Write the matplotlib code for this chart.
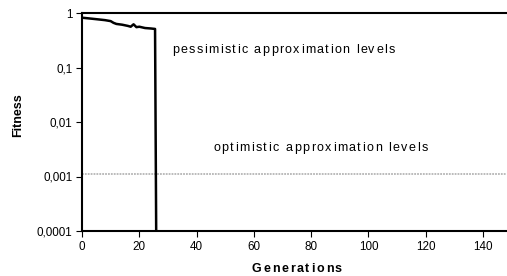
import matplotlib
matplotlib.use("Agg")
import matplotlib.pyplot as plt
import numpy as np

plt.rcParams['font.family'] = ['Liberation Sans', 'DejaVu Sans']

generations = [0, 1, 3, 5, 8, 10, 11, 12, 14, 16, 17, 18, 19, 20, 22, 24, 25.5, 26]
fitness = [0.82, 0.81, 0.79, 0.77, 0.74, 0.71, 0.66, 0.63, 0.61, 0.58, 0.56, 0.62, 0.55, 0.56, 0.53, 0.52, 0.51, 0.00001]
optimistic_level = 0.0011
yticks = [1, 0.1, 0.01, 0.001, 0.0001]
ytick_labels = ["1", "0,1", "0,01", "0,001", "0,0001"]
xticks = [0, 20, 40, 60, 80, 100, 120, 140]

W, H = 507, 276
fig = plt.figure(figsize=(W / 100, H / 100), dpi=100)
ax = fig.add_axes([82 / W, 1 - 231 / H, 424 / W, 218 / H])
ax.set_yscale('log')
ax.set_ylim(0.0001, 1)
ax.set_xlim(0, 148)

ax.axhline(optimistic_level, color='#b5b5b5', lw=1.3, ls=(0, (1, 0.6)), zorder=1)
ax.plot(generations, fitness, color='black', lw=1.8, zorder=3, clip_on=True)

ax.set_yticks(yticks)
ax.set_yticklabels(ytick_labels)
ax.minorticks_off()
ax.set_xticks(xticks)
ax.tick_params(axis='both', labelsize=8.4, length=4, width=0.8, direction='out', colors='black', pad=3)
for s in ['left', 'bottom']:
    ax.spines[s].set_linewidth(1.5)
ax.spines['right'].set_visible(False)
ax.spines['top'].set_linewidth(1.5)

renderer = fig.canvas.get_renderer()


def char_width(ch, **kw):
    t1 = fig.text(0, 0, "|" + ch + "|", **kw)
    t2 = fig.text(0, 0, "||", **kw)
    w = t1.get_window_extent(renderer).width - t2.get_window_extent(renderer).width
    t1.remove()
    t2.remove()
    return w


def spaced_text(x0, baseline, s, target_w, **kw):
    widths = [char_width(ch, **kw) for ch in s]
    gap = (target_w - sum(widths)) / (len(s) - 1)
    x = x0
    for ch, w in zip(s, widths):
        fig.text(x / W, 1 - baseline / H, ch, ha='left', va='baseline', **kw)
        x += w + gap


spaced_text(172, 53, "pessimistic approximation levels", 223, fontsize=9)
spaced_text(213, 151, "optimistic approximation levels", 215, fontsize=9)
spaced_text(252, 271.5, "Generations", 90, fontsize=9, fontweight='bold')

fig.text(18 / W, 1 - 115 / H, "Fitness", fontsize=9, fontweight='bold', rotation=90, ha='center', va='center')

fig.savefig("out.png", dpi=100)
